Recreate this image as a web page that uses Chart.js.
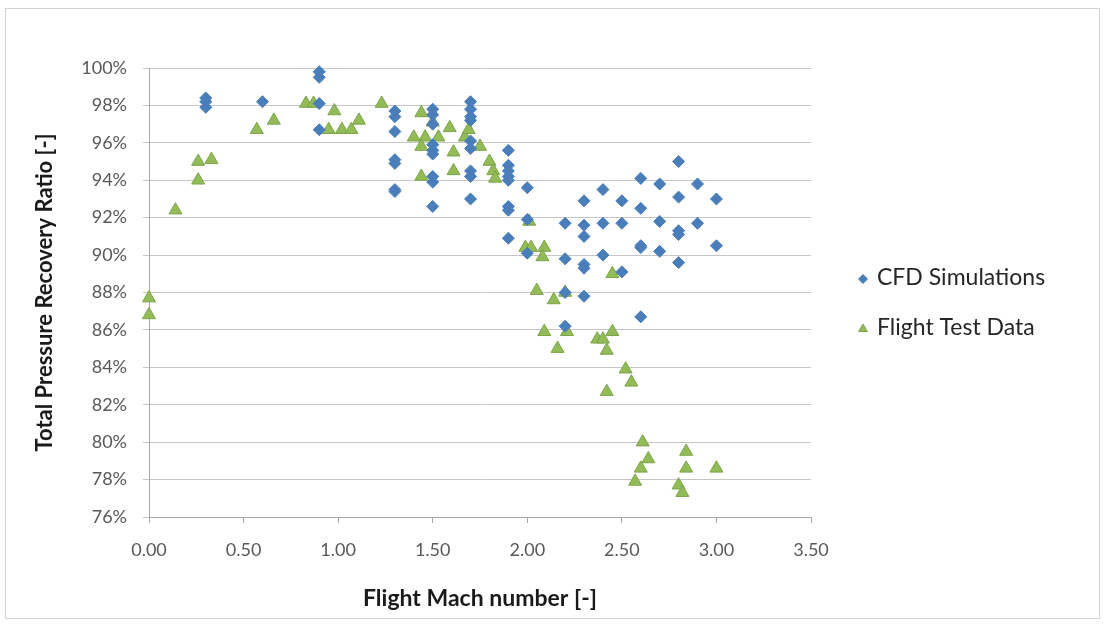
<!DOCTYPE html>
<html lang="en">
<head>
<meta charset="UTF-8">
<title>Total Pressure Recovery Ratio vs Flight Mach number</title>
<style>
  html, body { margin: 0; padding: 0; background: #fff; }
  #wrap { width: 1104px; height: 628px; }
</style>
</head>
<body>
<div id="wrap"><canvas id="chart" width="1104" height="628"></canvas></div>

<script src="https://cdn.jsdelivr.net/npm/chart.js@4.4.1/dist/chart.umd.min.js"></script>
<script>
// CFD simulations (blue diamonds)
const cfdMach = [
  0.30, 0.30, 0.30,
  0.60,
  0.90, 0.90, 0.90, 0.90,
  1.30, 1.30, 1.30, 1.30, 1.30, 1.30, 1.30,
  1.50, 1.50, 1.50, 1.50, 1.50, 1.50, 1.50, 1.50, 1.50,
  1.70, 1.70, 1.70, 1.70, 1.70, 1.70, 1.70, 1.70, 1.70,
  1.90, 1.90, 1.90, 1.90, 1.90, 1.90, 1.90, 1.90,
  2.00, 2.00, 2.00,
  2.20, 2.20, 2.20, 2.20,
  2.30, 2.30, 2.30, 2.30, 2.30, 2.30,
  2.40, 2.40, 2.40,
  2.50, 2.50, 2.50,
  2.60, 2.60, 2.60, 2.60, 2.60,
  2.70, 2.70, 2.70,
  2.80, 2.80, 2.80, 2.80, 2.80,
  2.90, 2.90,
  3.00, 3.00
];
const cfdRecovery = [
  98.4, 98.2, 97.9,
  98.2,
  99.8, 99.5, 98.1, 96.7,
  97.7, 97.4, 96.6, 95.1, 94.9, 93.5, 93.4,
  97.8, 97.5, 97.0, 95.9, 95.6, 95.4, 94.2, 93.9, 92.6,
  98.2, 97.8, 97.4, 97.2, 96.1, 95.7, 94.5, 94.2, 93.0,
  95.6, 94.8, 94.5, 94.2, 94.0, 92.6, 92.4, 90.9,
  93.6, 91.9, 90.1,
  91.7, 89.8, 88.0, 86.2,
  92.9, 91.6, 91.0, 89.5, 89.3, 87.8,
  93.5, 91.7, 90.0,
  92.9, 91.7, 89.1,
  94.1, 92.5, 90.5, 90.4, 86.7,
  93.8, 91.8, 90.2,
  95.0, 93.1, 91.3, 91.1, 89.6,
  93.8, 91.7,
  93.0, 90.5
];

// Flight test data (green triangles)
const flightMach = [
  0.00, 0.00, 0.14, 0.26, 0.26, 0.33, 0.57, 0.66, 0.83, 0.87,
  0.95, 0.98, 1.02, 1.07, 1.11, 1.23, 1.40, 1.44, 1.46, 1.44,
  1.44, 1.50, 1.53, 1.59, 1.61, 1.61, 1.67, 1.69, 1.75, 1.80,
  1.82, 1.83, 2.01, 1.99, 2.02, 2.09, 2.08, 2.05, 2.20, 2.14,
  2.45, 2.09, 2.21, 2.16, 2.37, 2.40, 2.45, 2.42, 2.52, 2.55,
  2.42, 2.61, 2.64, 2.84, 2.60, 2.84, 3.00, 2.57, 2.80, 2.82
];
const flightRecovery = [
  87.7, 86.8, 92.4, 95.0, 94.0, 95.1, 96.7, 97.2, 98.1, 98.1,
  96.7, 97.7, 96.7, 96.7, 97.2, 98.1, 96.3, 97.6, 96.3, 95.8,
  94.2, 97.1, 96.3, 96.8, 95.5, 94.5, 96.3, 96.7, 95.8, 95.0,
  94.5, 94.1, 91.8, 90.4, 90.4, 90.4, 89.9, 88.1, 88.0, 87.6,
  89.0, 85.9, 85.9, 85.0, 85.5, 85.5, 85.9, 84.9, 83.9, 83.2,
  82.7, 80.0, 79.1, 79.5, 78.6, 78.6, 78.6, 77.9, 77.7, 77.3
];

const seriesLabels = ['CFD Simulations', 'Flight Test Data'];
const BLUE = '#4a7ebb';
const GREEN = '#93bb58';
const FONT = 'Lato, "Open Sans", sans-serif';

function toPoints(xs, ys) {
  return xs.map((x, i) => ({ x: x, y: ys[i] }));
}

// frame around the whole chart + the legend on the right
const excelLook = {
  id: 'excelLook',
  beforeDraw(chart) {
    const ctx = chart.ctx;
    ctx.save();
    ctx.fillStyle = '#fff';
    ctx.fillRect(0, 0, chart.width, chart.height);
    ctx.strokeStyle = '#d4d4d4';
    ctx.lineWidth = 1;
    ctx.strokeRect(5.5, 8.5, 1094, 610);
    ctx.restore();
  },
  afterDraw(chart) {
    const ctx = chart.ctx;
    ctx.save();
    ctx.font = '23px ' + FONT;
    ctx.textBaseline = 'middle';
    chart.data.datasets.forEach((ds, i) => {
      const y = 278 + i * 50;
      ctx.fillStyle = ds.backgroundColor;
      ctx.strokeStyle = ds.borderColor;
      Chart.helpers.drawPoint(ctx, {
        pointStyle: ds.pointStyle, radius: i === 0 ? 4.5 : 5, rotation: 0, borderWidth: 1
      }, 863, y + 1);
      ctx.fillStyle = '#262626';
      ctx.fillText(ds.label, 877, y);
    });
    ctx.restore();
  }
};

new Chart(document.getElementById('chart'), {
  type: 'scatter',
  data: {
    datasets: [
      {
        label: seriesLabels[0],
        data: toPoints(cfdMach, cfdRecovery),
        pointStyle: 'rectRot',
        pointRadius: 6,
        backgroundColor: BLUE,
        borderColor: BLUE,
        borderWidth: 1,
        clip: false
      },
      {
        label: seriesLabels[1],
        data: toPoints(flightMach, flightRecovery),
        pointStyle: 'triangle',
        pointRadius: 7.5,
        backgroundColor: GREEN,
        borderColor: '#7aa548',
        borderWidth: 1,
        clip: false
      }
    ]
  },
  options: {
    responsive: false,
    animation: false,
    layout: { padding: { top: 68, right: 293, bottom: 0, left: 0 } },
    plugins: {
      legend: { display: false },
      tooltip: { enabled: false }
    },
    scales: {
      x: {
        type: 'linear',
        min: 0,
        max: 3.5,
        afterFit(scale) { scale.height = 111; },
        ticks: {
          stepSize: 0.5,
          padding: 16,
          color: '#595959',
          font: { family: FONT, size: 18 },
          maxRotation: 0,
          callback: v => v.toFixed(2)
        },
        grid: {
          drawOnChartArea: false,
          color: '#a6a6a6',
          tickLength: 6
        },
        border: { color: '#a6a6a6' },
        title: {
          display: true,
          text: 'Flight Mach number [-]',
          color: '#1a1a1a',
          font: { family: FONT, size: 23, weight: 'bold' },
          padding: { top: 0, bottom: 16 }
        }
      },
      y: {
        type: 'linear',
        min: 76,
        max: 100,
        afterFit(scale) { scale.width = 149; },
        ticks: {
          stepSize: 2,
          padding: 16,
          color: '#595959',
          font: { family: FONT, size: 18 },
          callback: v => Math.round(v) + '%'
        },
        grid: {
          color: '#c6c6c6',
          tickLength: 6
        },
        border: { color: '#a6a6a6' },
        title: {
          display: true,
          text: 'Total Pressure Recovery Ratio [-]',
          color: '#1a1a1a',
          font: { family: FONT, size: 22, weight: 'bold' },
          padding: { top: 32, bottom: 0 }
        }
      }
    }
  },
  plugins: [excelLook]
});
</script>
</body>
</html>
